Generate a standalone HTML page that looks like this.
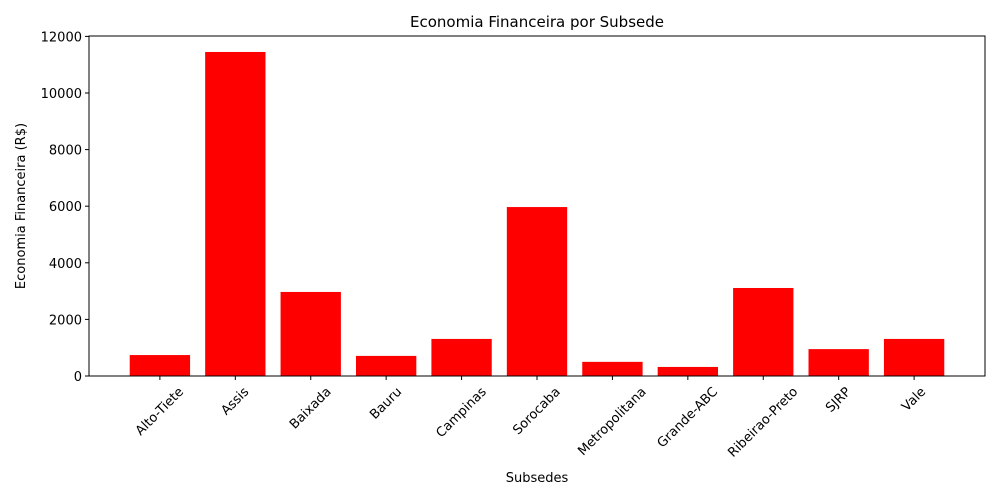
<!DOCTYPE html>
<html><head><meta charset="utf-8"><style>
body{margin:0;background:#fff}
svg{display:block;font-family:"DejaVu Sans","Liberation Sans",sans-serif}
</style></head><body>
<svg id="chart" width="1000" height="500">
<text x="537" y="27" text-anchor="middle" font-size="15">Economia Financeira por Subsede</text>
<g id="bars"></g>
<g id="yticks"></g>
<g id="xticks"></g>
<rect x="89" y="36" width="896" height="340" fill="none" stroke="#000" stroke-width="1"/>
<text x="537" y="482" text-anchor="middle" font-size="13">Subsedes</text>
<text transform="translate(25,206) rotate(-90)" text-anchor="middle" font-size="13">Economia Financeira (R$)</text>
</svg>
<script>
const categories=["Alto-Tiete","Assis","Baixada","Bauru","Campinas","Sorocaba","Metropolitana","Grande-ABC","Ribeirao-Preto","SJRP","Vale"];
const values=[740,11450,2970,710,1310,5970,500,320,3110,950,1310];
const yTicks=[0,2000,4000,6000,8000,10000,12000];
const NS="http://www.w3.org/2000/svg";
const L=89,R=985,T=36,B=376;
const xmin=-0.94,xmax=categories.length-1+0.94;
function xs(i){return L+(i-xmin)/(xmax-xmin)*(R-L);}
function ys(v){return B-v/12000*(B-36.4);}
const bw=(xs(0.8)-xs(0));
const bars=document.getElementById('bars'),yt=document.getElementById('yticks'),xt=document.getElementById('xticks');
values.forEach((v,i)=>{
  const r=document.createElementNS(NS,'rect');
  r.setAttribute('x',xs(i)-bw/2);r.setAttribute('y',ys(v));
  r.setAttribute('width',bw);r.setAttribute('height',B-ys(v));r.setAttribute('fill','#ff0000');
  
  
  bars.appendChild(r);
  const l=document.createElementNS(NS,'line');
  l.setAttribute('x1',xs(i));l.setAttribute('x2',xs(i));l.setAttribute('y1',B);l.setAttribute('y2',B+4);l.setAttribute('stroke','#000');
  
  
  xt.appendChild(l);
  const t=document.createElementNS(NS,'text');
  t.setAttribute('text-anchor','middle');t.setAttribute('font-size','13');t.setAttribute('dominant-baseline','central');
  t.textContent=categories[i];
  
  
  xt.appendChild(t);
  const w=t.getComputedTextLength();
  const half=(w+14)*0.7071/2;
  t.setAttribute('transform',`translate(${xs(i)},${B+9+half}) rotate(-45)`);
});
yTicks.forEach(v=>{
  const l=document.createElementNS(NS,'line');
  l.setAttribute('x1',L-4);l.setAttribute('x2',L);l.setAttribute('y1',ys(v));l.setAttribute('y2',ys(v));l.setAttribute('stroke','#000');
  
  
  yt.appendChild(l);
  const t=document.createElementNS(NS,'text');
  t.setAttribute('x',L-7);t.setAttribute('y',ys(v)+5);t.setAttribute('text-anchor','end');t.setAttribute('font-size','13');
  t.textContent=v;
  
  
  yt.appendChild(t);
});
</script>
</body></html>
